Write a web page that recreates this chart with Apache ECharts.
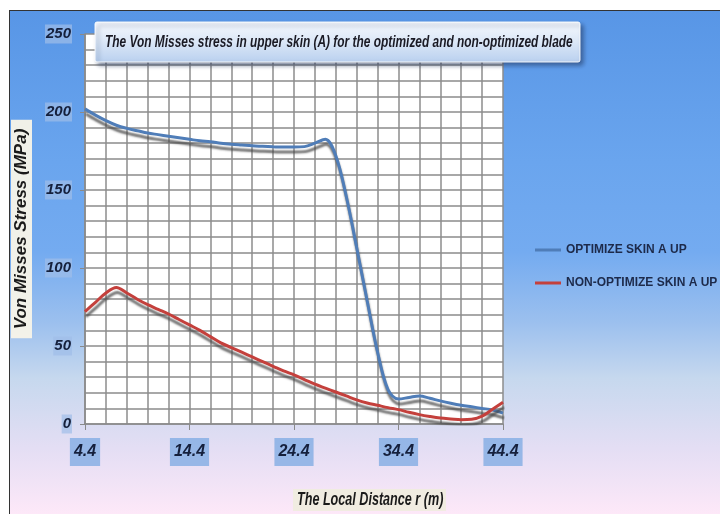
<!DOCTYPE html>
<html>
<head>
<meta charset="utf-8">
<script src="https://cdn.jsdelivr.net/npm/echarts@6/dist/echarts.min.js"></script>
<style>
  html, body { margin: 0; padding: 0; background: #ffffff; }
  #bg { position: absolute; left: 9px; top: 10px; width: 711px; height: 504px;
        box-sizing: border-box; border-left: 1.5px solid #333; border-top: 1.5px solid #333;
        background: linear-gradient(to bottom, #5896e6 0%, #6aa5ee 30%, #74abf0 48%, #9cc0ee 62%, #c6d8ee 73%, #e4def4 87%, #fde8f8 100%); }
  #chart { position: absolute; left: 0; top: 0; width: 720px; height: 514px; }
</style>
</head>
<body>
<div id="bg"></div>
<div id="chart"></div>
<script>
var categories = ['4.4','5.4','6.4','7.4','8.4','9.4','10.4','11.4','12.4','13.4',
  '14.4','15.4','16.4','17.4','18.4','19.4','20.4','21.4','22.4','23.4',
  '24.4','25.4','26.4','27.4','28.4','29.4','30.4','31.4','32.4','33.4',
  '34.4','35.4','36.4','37.4','38.4','39.4','40.4','41.4','42.4','43.4','44.4'];
var optimizedValues = [202, 198, 194.5, 191.5, 189.5, 188, 186.5, 185.5, 184.5, 183.5,
  182.5, 181.5, 181, 180, 179.3, 178.8, 178.3, 178, 177.7, 177.5,
  177.5, 177.8, 180, 182.5, 172, 146, 113, 79, 46, 22,
  16, 17, 18, 16.5, 14.8, 13.3, 12, 11, 10, 9, 7];
var nonOptimizedValues = [72, 78, 84, 87.5, 84, 80, 76.5, 73.5, 70.5, 67,
  63.5, 60, 56, 52, 49, 46, 43, 40, 37, 34,
  31.5, 28.5, 25.5, 23, 20.5, 18, 15.5, 13.5, 12, 10.5,
  9.2, 7.5, 6, 4.8, 3.8, 3.2, 2.7, 3, 5, 9.5, 14];
var seriesNames = ['OPTIMIZE SKIN A UP', 'NON-OPTIMIZE SKIN A UP'];
var titleText = 'The Von Misses stress in upper skin (A) for the optimized and non-optimized blade';
var xAxisTitle = 'The Local Distance r (m)';
var yAxisTitle = 'Von Misses Stress (MPa)';

var FONT = "'Liberation Sans', Arial, sans-serif";
var chart = echarts.init(document.getElementById('chart'), null, { renderer: 'canvas' });

function lineSeries(name, data, color) {
  return {
    name: name, type: 'line', data: data, smooth: 0.35, symbol: 'none',
    lineStyle: { color: color, width: 3, shadowColor: 'rgba(70,70,70,0.75)', shadowBlur: 2, shadowOffsetX: 1, shadowOffsetY: 5 },
    itemStyle: { color: color }
  };
}

chart.setOption({
  backgroundColor: 'transparent',
  animation: false,
  grid: { left: 85, right: 217, top: 34, bottom: 90, show: true, backgroundColor: '#ffffff', borderWidth: 0, containLabel: false },
  legend: {
    orient: 'vertical', left: 535, top: 244, padding: 0, itemWidth: 26, itemHeight: 3, itemGap: 21,
    icon: 'rect', selectedMode: false, data: seriesNames,
    textStyle: { fontFamily: FONT, fontWeight: 'bold', fontSize: 12, color: '#1d2a4a' }
  },
  xAxis: {
    type: 'category', data: categories, boundaryGap: false,
    axisLine: { show: true, lineStyle: { color: '#8a8a8a', width: 1.5 } },
    axisTick: { show: true, interval: 9, length: 6, lineStyle: { color: '#8a8a8a' } },
    axisLabel: { interval: 9, margin: 14, fontFamily: FONT, fontStyle: 'italic', fontWeight: 'bold', fontSize: 16,
      color: '#15203c', backgroundColor: 'rgba(130,172,228,0.8)', padding: [6, 4, 6, 4] },
    splitLine: { show: true, interval: 1, lineStyle: { color: '#8c8c8c', width: 1.5 } }
  },
  yAxis: {
    type: 'value', min: 0, max: 250, interval: 50,
    name: yAxisTitle, nameLocation: 'middle', nameRotate: 90, nameGap: 53,
    nameTextStyle: { fontFamily: FONT, fontStyle: 'italic', fontWeight: 'bold', fontSize: 17, color: '#1a1a1a',
      backgroundColor: 'rgba(248,244,232,0.95)', padding: [2, 9, 2, 9] },
    axisLine: { show: true, lineStyle: { color: '#8a8a8a', width: 1.5 } },
    axisTick: { show: true, length: 5, lineStyle: { color: '#8a8a8a' } },
    axisLabel: { margin: 13, fontFamily: FONT, fontStyle: 'italic', fontWeight: 'bold', fontSize: 15,
      color: '#15203c', backgroundColor: 'rgba(160,190,232,0.7)', padding: [2, 1, 2, 1] },
    splitLine: { show: true, lineStyle: { color: '#8c8c8c', width: 1.5 } },
    minorTick: { show: false, splitNumber: 5 },
    minorSplitLine: { show: true, lineStyle: { color: '#8c8c8c', width: 1.5 } }
  },
  graphic: [
    {
      type: 'rect', z: 100, shape: { x: 95, y: 22, width: 485, height: 40, r: 2 },
      style: {
        fill: new echarts.graphic.LinearGradient(0, 0, 0, 1, [
          { offset: 0, color: '#f5f8fd' }, { offset: 0.5, color: '#dbe7f7' }, { offset: 1, color: '#b9d0ef' }]),
        stroke: 'rgba(255,255,255,0.9)', lineWidth: 1,
        shadowColor: 'rgba(30,50,90,0.55)', shadowBlur: 4, shadowOffsetX: 3, shadowOffsetY: 3
      }
    },
    {
      type: 'text', z: 101, x: 105, y: 42, scaleX: 0.7,
      style: { text: titleText, fontFamily: FONT, fontStyle: 'italic', fontWeight: 'bold', fontSize: 17, fill: '#1a1a24',
        textVerticalAlign: 'middle', verticalAlign: 'middle' }
    },
    {
      type: 'rect', z: 100, shape: { x: 293, y: 489, width: 153, height: 22 },
      style: { fill: 'rgba(240,236,222,0.9)' }
    },
    {
      type: 'text', z: 101, x: 297, y: 500, scaleX: 0.7,
      style: { text: xAxisTitle, fontFamily: FONT, fontStyle: 'italic', fontWeight: 'bold', fontSize: 18, fill: '#1a1a1a',
        textVerticalAlign: 'middle', verticalAlign: 'middle' }
    }
  ],
  series: [
    lineSeries(seriesNames[0], optimizedValues, '#4f7db8'),
    lineSeries(seriesNames[1], nonOptimizedValues, '#c4403c')
  ]
});
</script>
</body>
</html>
